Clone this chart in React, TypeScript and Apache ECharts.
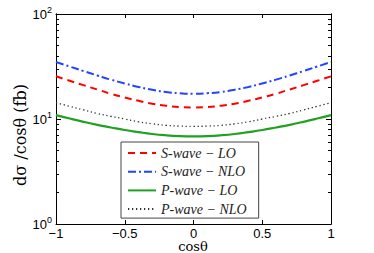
import React, { useEffect, useRef } from "react";
import * as echarts from "echarts";

const cosTheta = [-1, -0.9, -0.8, -0.7, -0.6, -0.5, -0.4, -0.3, -0.2, -0.1, 0, 0.1, 0.2, 0.3, 0.4, 0.5, 0.6, 0.7, 0.8, 0.9, 1];
const sWaveLO = [25.5, 23.1, 21.0, 19.1, 17.4, 16.05, 14.9, 14.0, 13.4, 13.0, 12.9, 13.0, 13.4, 14.0, 14.9, 16.05, 17.4, 19.1, 21.0, 23.1, 25.5];
const sWaveNLO = [34.9, 31.6, 28.6, 26.0, 23.7, 21.8, 20.2, 19.0, 18.1, 17.6, 17.4, 17.6, 18.1, 19.0, 20.2, 21.8, 23.7, 26.0, 28.6, 31.6, 34.9];
const pWaveLO = [10.9, 10.1, 9.4, 8.8, 8.3, 7.85, 7.5, 7.2, 7.0, 6.88, 6.84, 6.88, 7.0, 7.2, 7.5, 7.85, 8.3, 8.8, 9.4, 10.1, 10.9];
const pWaveNLO = [14.3, 13.2, 12.2, 11.3, 10.6, 10.0, 9.4, 9.0, 8.7, 8.56, 8.5, 8.56, 8.7, 9.0, 9.4, 10.0, 10.6, 11.3, 12.2, 13.2, 14.3];
const seriesNames = ["S-wave − LO", "S-wave − NLO", "P-wave − LO", "P-wave − NLO"];
const majorTicks = [1, 10, 100];
const minorTicks = [2, 3, 4, 5, 6, 7, 8, 9, 20, 30, 40, 50, 60, 70, 80, 90];
const xTitle = "cosθ";
const yTitle = "dσ /cosθ (fb)";

const pairs = (ys: number[]) => cosTheta.map((x, i) => [x, ys[i]]);

export default function App() {
  const ref = useRef<HTMLDivElement>(null);
  useEffect(() => {
    if (!ref.current) return;
    const chart = echarts.init(ref.current, null, { renderer: "svg" });
    const axisLine = { show: true, onZero: false, lineStyle: { color: "#000", width: 1 } };
    const yBase = {
      type: "log" as const,
      logBase: 10,
      min: 1,
      max: 100,
      splitLine: { show: false },
      axisLine,
    };
    chart.setOption({
      animation: false,
      backgroundColor: "#fff",
      grid: { left: 56, right: 43, top: 14, bottom: 29, containLabel: false, outerBoundsMode: "none" },
      xAxis: [
        {
          type: "value",
          min: -1,
          max: 1,
          interval: 0.5,
          position: "bottom",
          axisLine,
          splitLine: { show: false },
          axisTick: { inside: true, length: 4, lineStyle: { color: "#000" } },
          axisLabel: {
            color: "#000",
            fontFamily: "Liberation Sans",
            fontSize: 13,
            lineHeight: 12,
            margin: 3,
            formatter: (v: number) => String(v).replace("-", "−"),
          },
        },
        {
          type: "value",
          min: -1,
          max: 1,
          interval: 0.5,
          position: "top",
          axisLine,
          splitLine: { show: false },
          axisTick: { inside: true, length: 4, lineStyle: { color: "#000" } },
          axisLabel: { show: false },
        },
      ],
      yAxis: [
        {
          ...yBase,
          position: "left",
          axisTick: { inside: true, length: 5, customValues: majorTicks, lineStyle: { color: "#000" } },
          axisLabel: {
            customValues: majorTicks,
            margin: 4,
            formatter: (v: number) => "10{sup|" + Math.round(Math.log10(v)) + "}",
            color: "#000",
            fontFamily: "Liberation Sans",
            fontSize: 13,
            rich: {
              sup: { fontSize: 9, fontFamily: "Liberation Sans", color: "#000", padding: [0, 0, 8, 0] },
            },
          },
        },
        {
          ...yBase,
          position: "left",
          axisTick: { inside: true, length: 3, customValues: minorTicks, lineStyle: { color: "#000" } },
          axisLabel: { show: false },
        },
        {
          ...yBase,
          position: "right",
          axisTick: { inside: true, length: 5, customValues: majorTicks, lineStyle: { color: "#000" } },
          axisLabel: { show: false },
        },
        {
          ...yBase,
          position: "right",
          axisTick: { inside: true, length: 3, customValues: minorTicks, lineStyle: { color: "#000" } },
          axisLabel: { show: false },
        },
      ],
      graphic: [
        {
          type: "text",
          x: 193,
          y: 240,
          style: {
            text: xTitle,
            font: "13px 'DejaVu Serif'",
            lineHeight: 13,
            fill: "#000",
            textAlign: "center",
            textVerticalAlign: "top",
          },
        },
        {
          type: "text",
          x: 20,
          y: 135,
          rotation: Math.PI / 2,
          style: {
            text: yTitle,
            font: "16px 'DejaVu Serif'",
            fill: "#000",
            textAlign: "center",
            textVerticalAlign: "middle",
          },
        },
      ],
      legend: {
        orient: "vertical",
        left: 121,
        top: 142,
        padding: [4, 12, 2, 6],
        itemWidth: 28,
        itemHeight: 14,
        itemGap: 4.7,
        borderColor: "#444",
        borderWidth: 1,
        backgroundColor: "#fff",
        borderRadius: 0,
        itemStyle: { opacity: 0 },
        data: seriesNames,
        textStyle: {
          fontFamily: "Liberation Serif",
          fontStyle: "italic",
          fontSize: 14,
          color: "#222",
        },
      },
      series: [
        {
          name: seriesNames[0],
          type: "line",
          data: pairs(sWaveLO),
          smooth: true,
          showSymbol: false,
          symbol: "none",
          lineStyle: { color: "#ff0000", width: 2, type: [7, 5] },
          itemStyle: { color: "#ff0000" },
        },
        {
          name: seriesNames[1],
          type: "line",
          data: pairs(sWaveNLO),
          smooth: true,
          showSymbol: false,
          symbol: "none",
          lineStyle: { color: "#2244ff", width: 2, type: [8, 3, 2, 3] },
          itemStyle: { color: "#2244ff" },
        },
        {
          name: seriesNames[2],
          type: "line",
          data: pairs(pWaveLO),
          smooth: true,
          showSymbol: false,
          symbol: "none",
          lineStyle: { color: "#22a022", width: 2.2, type: "solid" },
          itemStyle: { color: "#22a022" },
        },
        {
          name: seriesNames[3],
          type: "line",
          data: pairs(pWaveNLO),
          smooth: true,
          showSymbol: false,
          symbol: "none",
          lineStyle: { color: "#333", width: 1.3, type: [1.3, 2.7] },
          itemStyle: { color: "#333" },
        },
      ],
    });
    return () => chart.dispose();
  }, []);
  return <div ref={ref} style={{ width: 374, height: 253, position: "absolute", left: 0, top: 0 }} />;
}
